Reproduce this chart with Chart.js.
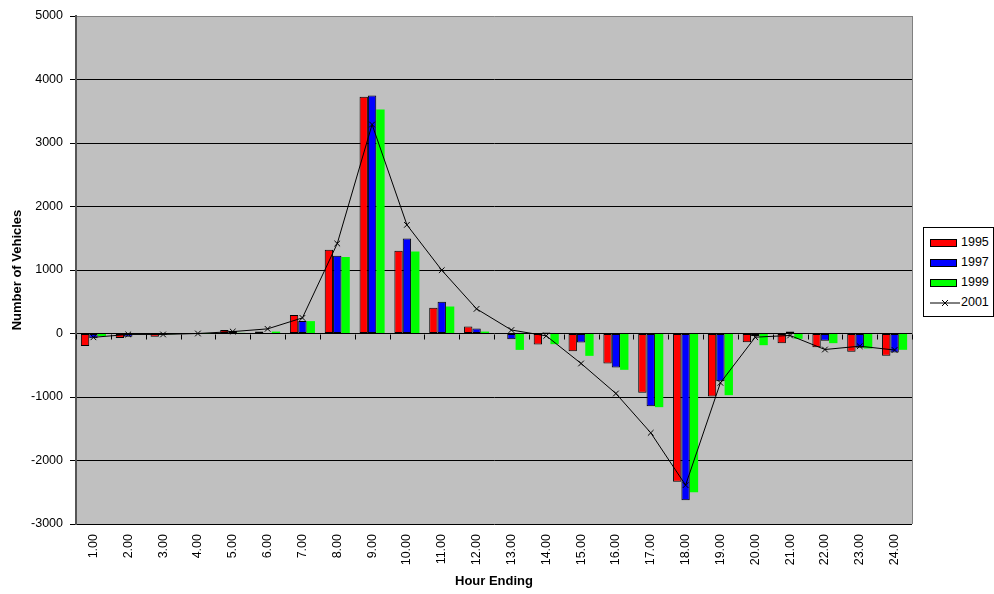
<!DOCTYPE html>
<html>
<head>
<meta charset="utf-8">
<script src="https://cdn.jsdelivr.net/npm/chart.js@4/dist/chart.umd.min.js"></script>
<style>
  body { margin: 0; background: #fff; font-family: "Liberation Sans", Arial, sans-serif; }
  #wrap { position: relative; width: 994px; height: 594px; }
  #legend { position: absolute; left: 923px; top: 227px; width: 69px; height: 88px;
    border: 1px solid #000; background: #fff; font-size: 12.5px; }
  .row { position: absolute; left: 0; height: 20px; width: 69px; }
  .sw { position: absolute; left: 6px; top: 6px; width: 25px; height: 6px; border: 1px solid #000; }
  .lbl { position: absolute; left: 37px; top: 2px; }
</style>
</head>
<body>
<div id="wrap">
  <canvas id="chart"></canvas>
  <div id="legend"></div>
</div>
<script>
const hours = ["1.00","2.00","3.00","4.00","5.00","6.00","7.00","8.00","9.00","10.00","11.00","12.00",
  "13.00","14.00","15.00","16.00","17.00","18.00","19.00","20.00","21.00","22.00","23.00","24.00"];
const v1995 = [-195,-70,-50,-5,55,30,290,1318,3727,1302,404,110,-8,-173,-279,-472,-934,-2336,-992,-136,-152,-215,-289,-352];
const v1997 = [-75,-50,-20,-5,40,5,198,1224,3748,1496,499,79,-90,15,-142,-535,-1144,-2625,-751,-40,30,-115,-226,-300];
const v1999 = [-40,-10,-10,-5,10,30,195,1205,3527,1291,425,30,-258,-168,-352,-572,-1160,-2499,-971,-184,-84,-152,-236,-257];
const v2001 = [-60,-15,-15,0,30,73,246,1417,3291,1711,997,388,55,-37,-472,-945,-1564,-2388,-777,-58,-31,-252,-200,-260];
const seriesNames = ["1995", "1997", "1999", "2001"];
const yTicks = [5000, 4000, 3000, 2000, 1000, 0, -1000, -2000, -3000];

const tickFont = { family: "'Liberation Sans', Arial, sans-serif", size: 12.5 };
const titleFont = { family: "'Liberation Sans', Arial, sans-serif", size: 13, weight: "bold" };

//gray plot background + frame
const plotBg = {
  id: "plotBg",
  beforeDraw(chart) {
    const { ctx, chartArea: a } = chart;
    ctx.save();
    ctx.fillStyle = "#c0c0c0";
    ctx.fillRect(a.left, a.top, a.right - a.left, a.bottom - a.top);
    ctx.strokeStyle = "#808080";
    ctx.lineWidth = 1;
    ctx.beginPath();
    ctx.moveTo(a.right + 0.5, a.top);
    ctx.lineTo(a.right + 0.5, a.bottom);
    ctx.stroke();
    ctx.restore();
  },
};

//category tick marks hanging off the zero line
const zeroTicks = {
  id: "zeroTicks",
  beforeDatasetsDraw(chart) {
    const { ctx, scales } = chart;
    const x = scales.x, y = scales.y;
    const y0 = Math.round(y.getPixelForValue(0)) + 0.5;
    ctx.save();
    ctx.strokeStyle = "#000";
    ctx.lineWidth = 1;
    ctx.beginPath();
    for (let i = 0; i <= hours.length; i++) {
      const px = Math.round(x.getPixelForValue(i - 0.5)) + 0.5;
      ctx.moveTo(px, y0);
      ctx.lineTo(px, y0 + 5);
    }
    ctx.stroke();
    ctx.restore();
  },
};

const data = {
  labels: hours,
  datasets: [
    { type: "line", label: seriesNames[3], data: v2001, borderColor: "#000", borderWidth: 1,
      pointStyle: "crossRot", pointRadius: 4, pointBorderColor: "#000", pointBorderWidth: 1,
      tension: 0, order: 0 },
    { label: seriesNames[0], data: v1995, backgroundColor: "#ff0000", borderColor: "#000",
      borderWidth: 1, borderSkipped: false, order: 1 },
    { label: seriesNames[1], data: v1997, backgroundColor: "#0000ff", borderColor: "#000",
      borderWidth: 1, borderSkipped: false, order: 1 },
    { label: seriesNames[2], data: v1999, backgroundColor: "#00ff00", borderWidth: 0, order: 1 },
  ],
};

const config = {
  type: "bar",
  data,
  options: {
    responsive: false,
    animation: false,
    layout: { padding: { left: 0, right: 82, top: 16, bottom: 0 } },
    datasets: { bar: { categoryPercentage: 0.72, barPercentage: 1 } },
    plugins: { legend: { display: false }, tooltip: { enabled: false } },
    scales: {
      x: {
        grid: { display: false, drawTicks: false },
        border: { display: false },
        ticks: { color: "#000", font: tickFont, minRotation: 90, maxRotation: 90, padding: 10, autoSkip: false },
        title: { display: true, text: "Hour Ending", color: "#000", font: titleFont, padding: { top: 0, bottom: 5 } },
        afterFit(scale) { scale.height = 70; },
      },
      y: {
        min: -3000,
        max: 5000,
        afterBuildTicks(scale) { scale.ticks = yTicks.map((v) => ({ value: v })); },
        grid: {
          color: (c) => (c.tick && c.tick.value === 5000 ? "#808080" : "#000"),
          tickColor: "#000",
          tickLength: 6,
          lineWidth: 1,
        },
        border: { color: "#555", width: 2 },
        ticks: { color: "#000", font: tickFont, padding: 7, callback: (v) => String(v) },
        title: { display: true, text: "Number of Vehicles", color: "#000", font: titleFont, padding: { top: 10, bottom: 0 } },
        afterFit(scale) { scale.width = 76; },
      },
    },
  },
  plugins: [plotBg, zeroTicks],
};

const canvas = document.getElementById("chart");
canvas.width = 994;
canvas.height = 594;
let myChart = new Chart(canvas, config);

//legend in the Excel style box
const legend = document.getElementById("legend");
const legendColors = ["#ff0000", "#0000ff", "#00ff00"];
seriesNames.forEach((name, i) => {
  const row = document.createElement("div");
  row.className = "row";
  row.style.top = 5 + i * 20 + "px";
  if (i < 3) {
    row.innerHTML = `<div class="sw" style="background:${legendColors[i]}"></div><span class="lbl">${name}</span>`;
  } else {
    row.innerHTML = `<svg width="34" height="20" style="position:absolute;left:4px;top:0">
      <line x1="2" y1="10" x2="32" y2="10" stroke="#000" stroke-width="1"/>
      <line x1="14" y1="7" x2="20" y2="13" stroke="#000"/><line x1="14" y1="13" x2="20" y2="7" stroke="#000"/>
      </svg><span class="lbl">${name}</span>`;
  }
  legend.appendChild(row);
});
</script>
</body>
</html>
